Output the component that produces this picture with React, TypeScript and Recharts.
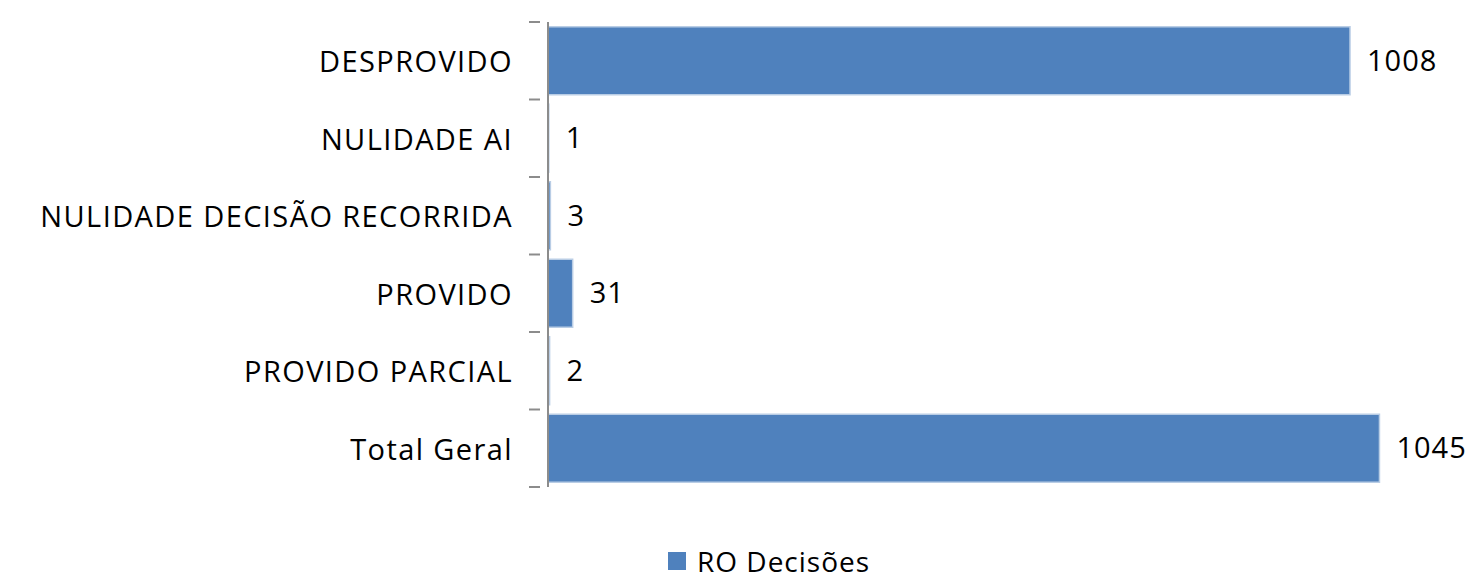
import { Bar, BarChart, XAxis, YAxis, LabelList } from "recharts"

const categories = [
  "DESPROVIDO",
  "NULIDADE AI",
  "NULIDADE DECISÃO RECORRIDA",
  "PROVIDO",
  "PROVIDO PARCIAL",
  "Total Geral",
]
const values = [1008, 1, 3, 31, 2, 1045]
const seriesName = "RO Decisões"

const data = categories.map((name, i) => ({ name, value: values[i] }))

const W = 1473
const H = 580
const TOP = 22
const BOTTOM = 93
const AXIS_X = 548
const FONT = "'Open Sans', sans-serif"
const FS = 29
const band = (H - TOP - BOTTOM) / categories.length

function CategoryTick(props: any) {
  const { x, y, payload, index } = props
  return (
    <g>
      <line x1={x - 11} x2={x} y1={y - band / 2} y2={y - band / 2} stroke="#8c8c8c" strokeWidth={2} />
      {index === categories.length - 1 && (
        <line x1={x - 11} x2={x} y1={y + band / 2} y2={y + band / 2} stroke="#8c8c8c" strokeWidth={2} />
      )}
      <text
        x={x - 27}
        y={y}
        textAnchor="end"
        dominantBaseline="central"
        fontSize={FS}
        fontFamily={FONT}
        letterSpacing={1.4}
        fill="#000"
      >
        {payload.value}
      </text>
    </g>
  )
}

export default function App() {
  return (
    <div style={{ position: "absolute", left: 0, top: 0, width: W, height: H, background: "#fff", overflow: "hidden" }}>
      <BarChart
        width={W}
        height={H}
        data={data}
        layout="vertical"
        margin={{ top: TOP, right: 10, bottom: BOTTOM, left: 0 }}
        barCategoryGap="6%"
      >
        <XAxis type="number" hide domain={[0, 1150]} />
        <YAxis
          type="category"
          dataKey="name"
          width={AXIS_X}
          axisLine={{ stroke: "#8c8c8c", strokeWidth: 2 }}
          tickLine={false}
          tick={<CategoryTick />}
          interval={0}
        />
        <Bar dataKey="value" name={seriesName} fill="#4f81bd" stroke="#b9cde5" strokeWidth={1.5} isAnimationActive={false}>
          <LabelList
            dataKey="value"
            position="right"
            offset={17}
            fontSize={FS}
            fontFamily={FONT}
            letterSpacing={1}
            fill="#000"
          />
        </Bar>
      </BarChart>
      <div
        style={{
          position: "absolute",
          left: 668,
          top: 547,
          height: 28,
          lineHeight: "28px",
          display: "flex",
          alignItems: "center",
          fontFamily: FONT,
          fontSize: 28,
          letterSpacing: 1,
          color: "#000",
        }}
      >
        <span style={{ width: 18, height: 18, background: "#4f81bd", display: "inline-block", marginRight: 11 }} />
        {seriesName}
      </div>
    </div>
  )
}
